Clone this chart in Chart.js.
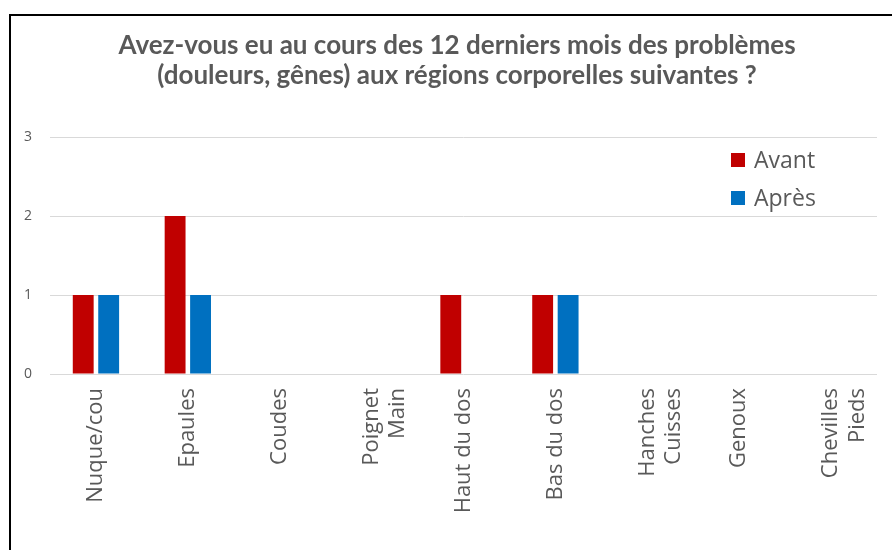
<!DOCTYPE html>
<html>
<head>
<meta charset="utf-8">
<script src="https://cdn.jsdelivr.net/npm/chart.js@4.4.1/dist/chart.umd.min.js"></script>
<style>
    html, body { margin: 0; padding: 0; background: #fff; overflow: hidden; }
    #frame {
        position: absolute; left: 9px; top: 14px;
        width: 1000px; height: 1000px;
        border-top: 2px solid #000; border-left: 2px solid #000;
    }
    #wrap { position: absolute; left: 0; top: 0; width: 892px; height: 534px; }
</style>
</head>
<body>
<div id="frame"><div id="wrap"><canvas id="chart"></canvas></div></div>
<script>
    // Data
    const categories = [
        'Nuque/cou', 'Epaules', 'Coudes', ['Poignet', 'Main'], 'Haut du dos',
        'Bas du dos', ['Hanches', 'Cuisses'], 'Genoux', ['Chevilles', 'Pieds']
    ];
    const avant = [1, 2, 0, 0, 1, 1, 0, 0, 0];
    const apres = [1, 1, 0, 0, 0, 1, 0, 0, 0];
    const yTicks = [0, 1, 2, 3];

    const textColor = '#595959';
    const gridColor = '#d9d9d9';

    // Legend drawn inside the plot area, top right
    const insideLegend = {
        id: 'insideLegend',
        afterDraw(chart) {
            const ctx = chart.ctx;
            const area = chart.chartArea;
            ctx.save();
            ctx.font = '23px "Open Sans"';
            ctx.textBaseline = 'middle';
            chart.data.datasets.forEach((ds, i) => {
                const x = area.right - 146;
                const y = area.top + 23 + i * 38;
                ctx.fillStyle = ds.backgroundColor;
                ctx.fillRect(x, y - 7, 14, 14);
                ctx.fillStyle = textColor;
                ctx.fillText(ds.label, x + 23, y + 1);
            });
            ctx.restore();
        }
    };

    new Chart(document.getElementById('chart'), {
        type: 'bar',
        data: {
            labels: categories,
            datasets: [
                { label: 'Avant', data: avant, backgroundColor: '#c00000' },
                { label: 'Après', data: apres, backgroundColor: '#0070c0' }
            ]
        },
        options: {
            responsive: true,
            maintainAspectRatio: false,
            animation: false,
            categoryPercentage: 0.554,
            barPercentage: 0.82,
            layout: { padding: 0 },
            plugins: {
                legend: { display: false },
                tooltip: { enabled: false },
                title: {
                    display: true,
                    text: [
                        'Avez-vous eu au cours des 12 derniers mois des problèmes',
                        '(douleurs, gênes) aux régions corporelles suivantes ?'
                    ],
                    color: textColor,
                    font: { family: 'Lato', size: 26, weight: 'bold', lineHeight: 30 / 26 },
                    padding: { top: 15, bottom: 46 }
                }
            },
            scales: {
                x: {
                    grid: { display: false, drawTicks: false },
                    border: { display: false },
                    afterFit(scale) { scale.height = 176; },
                    ticks: {
                        color: textColor,
                        minRotation: 90,
                        maxRotation: 90,
                        autoSkip: false,
                        padding: 14,
                        font: { family: '"Open Sans"', size: 22 }
                    }
                },
                y: {
                    min: 0,
                    max: 3,
                    afterFit(scale) { scale.width = 39; },
                    afterBuildTicks(scale) { scale.ticks = yTicks.map(v => ({ value: v })); },
                    grid: { color: gridColor, lineWidth: 1, drawTicks: false },
                    border: { display: false },
                    ticks: {
                        color: textColor,
                        padding: 18,
                        font: { family: '"Open Sans"', size: 14 }
                    }
                },
                // empty right-hand spacer so the title stays centred on the whole box
                spacer: {
                    type: 'linear',
                    position: 'right',
                    afterFit(scale) { scale.width = 26; },
                    grid: { display: false, drawTicks: false },
                    border: { display: false },
                    ticks: { display: false }
                }
            }
        },
        plugins: [insideLegend]
    });
</script>
</body>
</html>
